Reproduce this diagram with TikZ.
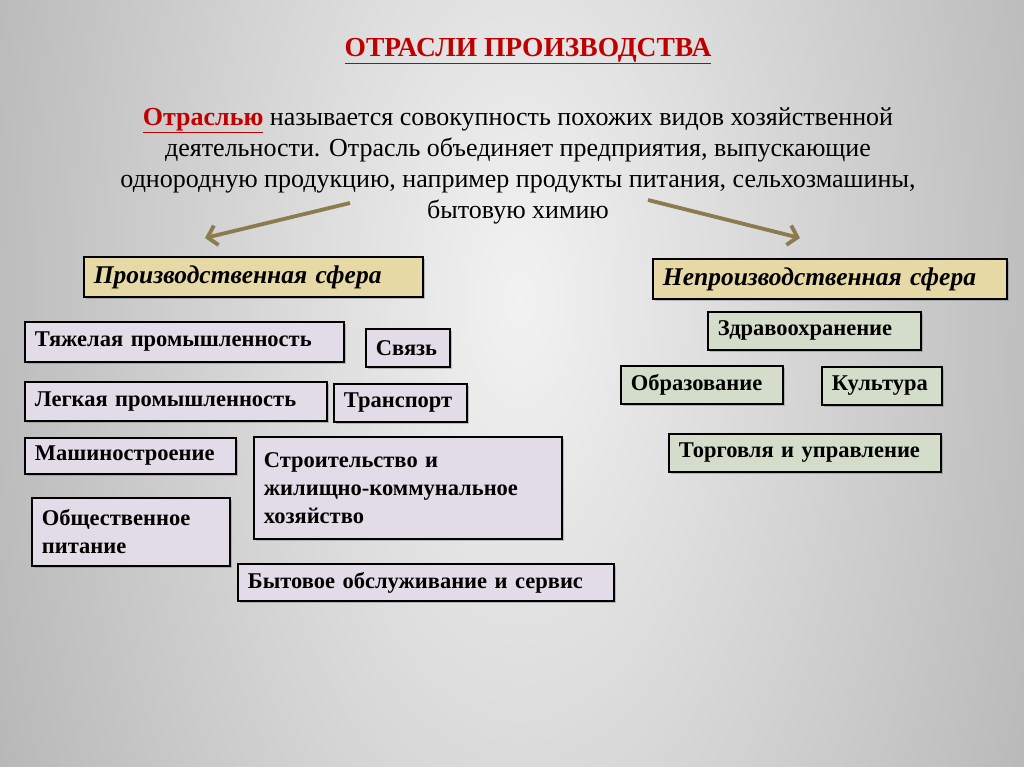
\documentclass[tikz,border=0pt]{standalone}
\usepackage{fontspec}
\setmainfont{Liberation Serif}
\usetikzlibrary{positioning,shadows,arrows.meta}

\definecolor{titlered}{HTML}{C00000}
\definecolor{arrowolive}{HTML}{8A7C4C}
\definecolor{spherefill}{HTML}{E6D9A6}
\definecolor{prodfill}{HTML}{E1DCE7}
\definecolor{servfill}{HTML}{D3DDC9}
\definecolor{bglight}{HTML}{F2F2F2}
\definecolor{bgdark}{HTML}{8C8C8C}

\tikzset{
  boxbase/.style={draw=black, line width=1.8pt, anchor=north west,
    drop shadow={shadow xshift=2.5pt, shadow yshift=-2.5pt, opacity=.45},
    inner xsep=10pt, inner ysep=0pt, align=left,
    font=\fontsize{22.5}{28}\selectfont\bfseries},
  sphere/.style={boxbase, fill=spherefill,
    font=\fontsize{25.5}{28}\selectfont\bfseries\itshape},
  prodbox/.style={boxbase, fill=prodfill},
  servbox/.style={boxbase, fill=servfill},
  branch/.style={arrowolive, line width=3.8pt,
    -{Straight Barb[length=9pt,width=20pt,line width=3.8pt]}},
}

\begin{document}
\begin{tikzpicture}[x=1pt,y=-1pt]
        % --- background ---
        \useasboundingbox (0,0) rectangle (1024,767);
        \begin{scope}
          \clip (0,0) rectangle (1024,767);
          \shade[inner color=bglight, outer color=bgdark] (-480,-1700) rectangle (1520,2300);
        \end{scope}

        % --- title and definition ---
        \node[titlered, font=\fontsize{27.5}{30}\selectfont\bfseries] (title) at (528,51)
          {\underline{ОТРАСЛИ ПРОИЗВОДСТВА}};
        \node[align=center, font=\fontsize{26}{31}\selectfont] (def) at (518,166)
          {\textcolor{titlered}{\textbf{\underline{Отраслью}}} называется совокупность похожих видов хозяйственной\\
           деятельности. Отрасль объединяет предприятия, выпускающие\\
           однородную продукцию, например продукты питания, сельхозмашины,\\
           бытовую химию};

        % --- arrows to the two spheres ---
        \coordinate (leftfrom) at (350,203);
        \coordinate (leftto) at (205,238);
        \coordinate (rightfrom) at (648,200);
        \coordinate (rightto) at (800,238);
        \draw[branch] (leftfrom) -- (leftto);
        \draw[branch] (rightfrom) -- (rightto);

        % --- spheres ---
        \node[sphere, minimum width=339pt, minimum height=40pt, text width=319pt] (prod) at (83,256)
          {Производственная сфера};
        \node[sphere, minimum width=354pt, minimum height=40pt, text width=334pt] (nonprod) at (652,258)
          {Непроизводственная сфера};

        % --- production branches ---
        \node[prodbox, minimum width=319pt, minimum height=40pt, text width=299pt] (heavy) at (24,321)
          {Тяжелая промышленность};
        \node[prodbox, minimum width=84pt, minimum height=38pt, text width=64pt] (comm) at (365,328)
          {Связь};
        \node[prodbox, minimum width=302pt, minimum height=39pt, text width=282pt] (light) at (24,381)
          {Легкая промышленность};
        \node[prodbox, minimum width=133pt, minimum height=38pt, text width=113pt] (transp) at (333,383)
          {Транспорт};
        \node[prodbox, minimum width=211pt, minimum height=36pt, text width=191pt] (mach) at (24,437)
          {Машиностроение};
        \node[prodbox, minimum width=308pt, minimum height=102pt, text width=288pt] (build) at (253,436)
          {Строительство и\\ жилищно-коммунальное\\ хозяйство};
        \node[prodbox, minimum width=198pt, minimum height=68pt, text width=178pt] (food) at (31,497)
          {Общественное\\ питание};
        \node[prodbox, minimum width=376pt, minimum height=37pt, text width=356pt] (serv) at (237,563)
          {Бытовое обслуживание и сервис};

        % --- non-production branches ---
        \node[servbox, minimum width=213pt, minimum height=38pt, text width=193pt] (health) at (707,311)
          {Здравоохранение};
        \node[servbox, minimum width=162pt, minimum height=38pt, text width=142pt] (edu) at (620,365)
          {Образование};
        \node[servbox, minimum width=120pt, minimum height=38pt, text width=100pt] (cult) at (821,366)
          {Культура};
        \node[servbox, minimum width=272pt, minimum height=38pt, text width=252pt] (trade) at (668,433)
          {Торговля и управление};

\end{tikzpicture}
\end{document}
